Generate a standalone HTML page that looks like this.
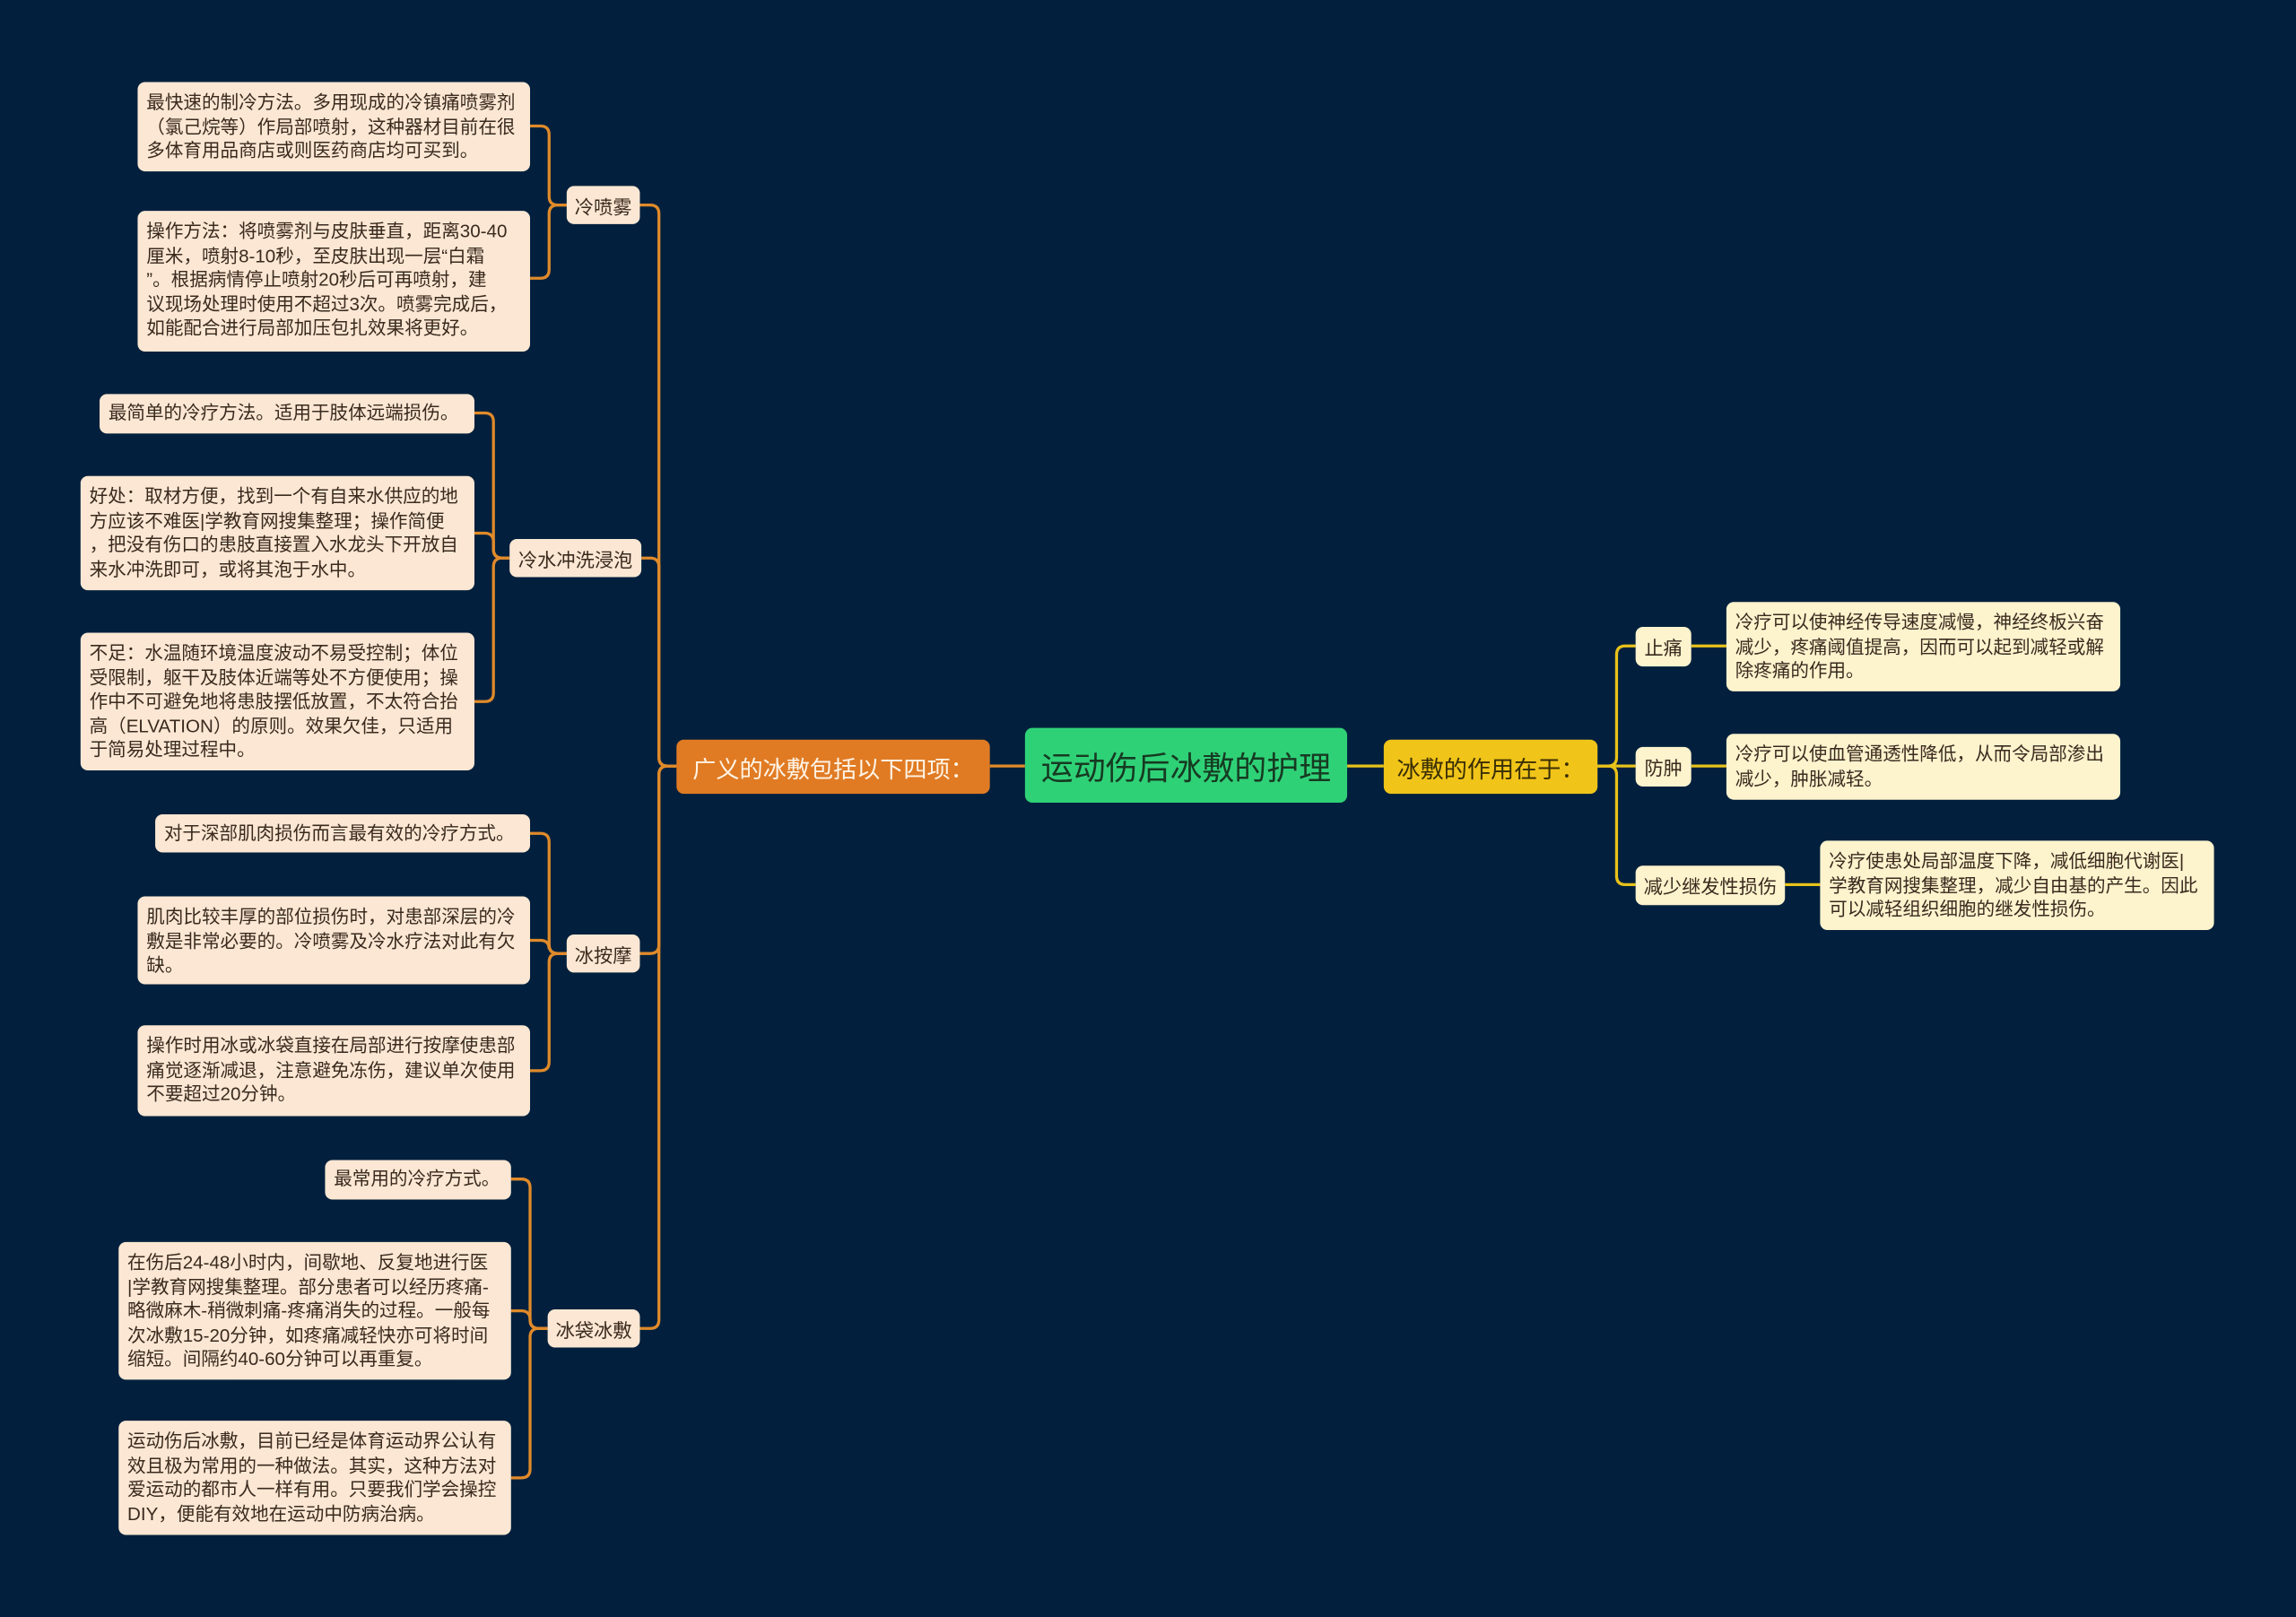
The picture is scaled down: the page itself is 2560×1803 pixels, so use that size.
<!DOCTYPE html>
<html><head><meta charset="utf-8">
<style>
html,body{margin:0;padding:0;background:#02203d;}
#wrap{width:2560px;height:1803px;overflow:hidden;position:relative;background:#02203d;}
#s{position:absolute;left:0;top:0;width:1568px;height:1104px;transform:scale(1.63265,1.63315);transform-origin:0 0;}
.n{position:absolute;box-sizing:border-box;border-radius:5px;font-family:"Liberation Sans","Noto Sans CJK SC",sans-serif;color:#3a2a1e;white-space:nowrap;}
.leaf{background:#fbe7d3;font-size:12.6px;line-height:16.6px;padding:6px 6px;}
.rl{background:#fdf3cd;}
.sub{background:#fbe7d3;font-size:13px;display:flex;align-items:center;justify-content:center;}
.rs{background:#fdf3cd;}
svg{position:absolute;left:0;top:0;}
</style></head><body><div id="wrap"><div id="s">
<svg id="g" width="1568" height="1104" viewBox="0 0 1568 1104"></svg>

<div class="n" style="left:700px;top:497px;width:220px;height:51px;background:#2fd177;font-size:22px;color:#163a22;display:flex;align-items:center;justify-content:center;">运动伤后冰敷的护理</div>
<div class="n" style="left:462px;top:505px;width:214px;height:37px;background:#e07b24;font-size:16px;color:#fff4e6;display:flex;align-items:center;justify-content:center;">广义的冰敷包括以下四项：</div>
<div class="n" style="left:945px;top:505px;width:146px;height:37px;background:#f0c419;font-size:16px;color:#3a2e05;display:flex;align-items:center;justify-content:center;">冰敷的作用在于：</div>

<div class="n sub" style="left:387px;top:127px;width:50px;height:26px;">冷喷雾</div>
<div class="n sub" style="left:348px;top:368px;width:90px;height:26px;">冷水冲洗浸泡</div>
<div class="n sub" style="left:387px;top:638px;width:50px;height:26px;">冰按摩</div>
<div class="n sub" style="left:374px;top:894px;width:63px;height:26px;">冰袋冰敷</div>

<div class="n leaf" style="left:94px;top:56px;width:268px;height:61px;">最快速的制冷方法。多用现成的冷镇痛喷雾剂<br>（氯己烷等）作局部喷射，这种器材目前在很<br>多体育用品商店或则医药商店均可买到。</div>
<div class="n leaf" style="left:94px;top:144px;width:268px;height:96px;">操作方法：将喷雾剂与皮肤垂直，距离30-40<br>厘米，喷射8-10秒，至皮肤出现一层“白霜<br>”。根据病情停止喷射20秒后可再喷射，建<br>议现场处理时使用不超过3次。喷雾完成后，<br>如能配合进行局部加压包扎效果将更好。</div>
<div class="n leaf" style="left:68px;top:269px;width:256px;height:27px;padding-top:5px;">最简单的冷疗方法。适用于肢体远端损伤。</div>
<div class="n leaf" style="left:55px;top:325px;width:269px;height:78px;">好处：取材方便，找到一个有自来水供应的地<br>方应该不难医|学教育网搜集整理；操作简便<br>，把没有伤口的患肢直接置入水龙头下开放自<br>来水冲洗即可，或将其泡于水中。</div>
<div class="n leaf" style="left:55px;top:432px;width:269px;height:94px;">不足：水温随环境温度波动不易受控制；体位<br>受限制，躯干及肢体近端等处不方便使用；操<br>作中不可避免地将患肢摆低放置，不太符合抬<br>高（ELVATION）的原则。效果欠佳，只适用<br>于简易处理过程中。</div>
<div class="n leaf" style="left:106px;top:556px;width:256px;height:26px;padding-top:5px;">对于深部肌肉损伤而言最有效的冷疗方式。</div>
<div class="n leaf" style="left:94px;top:612px;width:268px;height:60px;">肌肉比较丰厚的部位损伤时，对患部深层的冷<br>敷是非常必要的。冷喷雾及冷水疗法对此有欠<br>缺。</div>
<div class="n leaf" style="left:94px;top:700px;width:268px;height:62px;">操作时用冰或冰袋直接在局部进行按摩使患部<br>痛觉逐渐减退，注意避免冻伤，建议单次使用<br>不要超过20分钟。</div>
<div class="n leaf" style="left:222px;top:792px;width:127px;height:27px;padding-top:5px;">最常用的冷疗方式。</div>
<div class="n leaf" style="left:81px;top:848px;width:268px;height:94px;">在伤后24-48小时内，间歇地、反复地进行医<br>|学教育网搜集整理。部分患者可以经历疼痛-<br>略微麻木-稍微刺痛-疼痛消失的过程。一般每<br>次冰敷15-20分钟，如疼痛减轻快亦可将时间<br>缩短。间隔约40-60分钟可以再重复。</div>
<div class="n leaf" style="left:81px;top:970px;width:268px;height:78px;">运动伤后冰敷，目前已经是体育运动界公认有<br>效且极为常用的一种做法。其实，这种方法对<br>爱运动的都市人一样有用。只要我们学会操控<br>DIY，便能有效地在运动中防病治病。</div>

<div class="n sub rs" style="left:1117px;top:428px;width:38px;height:27px;">止痛</div>
<div class="n sub rs" style="left:1117px;top:510px;width:38px;height:27px;">防肿</div>
<div class="n sub rs" style="left:1117px;top:591px;width:102px;height:27px;">减少继发性损伤</div>

<div class="n leaf rl" style="left:1179px;top:411px;width:269px;height:61px;">冷疗可以使神经传导速度减慢，神经终板兴奋<br>减少，疼痛阈值提高，因而可以起到减轻或解<br>除疼痛的作用。</div>
<div class="n leaf rl" style="left:1179px;top:501px;width:269px;height:45px;">冷疗可以使血管通透性降低，从而令局部渗出<br>减少，肿胀减轻。</div>
<div class="n leaf rl" style="left:1243px;top:574px;width:269px;height:61px;">冷疗使患处局部温度下降，减低细胞代谢医|<br>学教育网搜集整理，减少自由基的产生。因此<br>可以减轻组织细胞的继发性损伤。</div>

</div></div>
<script>
var g=document.getElementById('g'),r=6;
function line(d,c){var p=document.createElementNS('http://www.w3.org/2000/svg','path');p.setAttribute('d',d);p.setAttribute('fill','none');p.setAttribute('stroke',c);p.setAttribute('stroke-width','2');g.appendChild(p);}
function grp(px,py,sx,kids,c){ // kids: [edgeX, cy]
 kids.forEach(function(k){var cx=k[0],cy=k[1];
  if(Math.abs(cy-py)<2){line('M'+px+','+py+'H'+cx,c);return;}
  var dir=cx<sx?-1:1, s=cy>py?1:-1;
  line('M'+px+','+py+'H'+(sx-dir*r)+'Q'+sx+','+py+' '+sx+','+(py+s*r)+'V'+(cy-s*r)+'Q'+sx+','+cy+' '+(sx+dir*r)+','+cy+'H'+cx,c);});
}
var O='#e08a2a',Y='#e8c21a';
line('M676,523H700',O);line('M920,523H945',Y);
grp(462,523,450,[[437,140],[438,381],[437,651],[437,907]],O);
grp(387,140,375,[[362,86],[362,190]],O);
grp(348,381,337,[[324,282],[324,364],[324,479]],O);
grp(387,651,375,[[362,569],[362,642],[362,731]],O);
grp(374,907,362,[[349,805],[349,895],[349,1009]],O);
grp(1091,523,1104,[[1117,441],[1117,523],[1117,604]],Y);
line('M1155,441H1179',Y);line('M1155,523H1179',Y);line('M1219,604H1243',Y);
</script>
</body></html>
